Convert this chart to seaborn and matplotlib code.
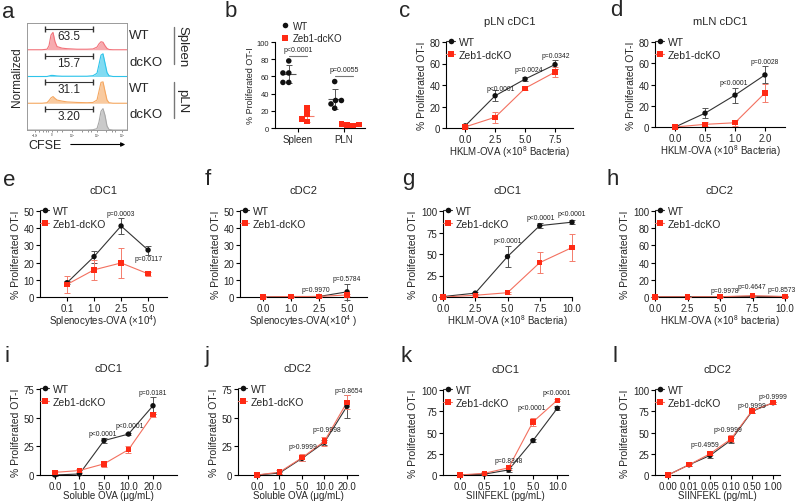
import numpy as np
import pandas as pd
import matplotlib
matplotlib.use('Agg')
import matplotlib.pyplot as plt
import seaborn as sns
from matplotlib.lines import Line2D

# ---------------- data ----------------
# panel a: CFSE histograms, heights as fraction of one row
cfse_x = [0.0, 0.15, 0.20, 0.22, 0.24, 0.26, 0.28, 0.30, 0.35, 0.40, 0.50, 0.60,
          0.66, 0.70, 0.72, 0.74, 0.76, 0.78, 0.80, 0.82, 0.86, 1.0]
hist_wt_spleen = [0, 0, 0.02, 0.15, 0.55, 0.65, 0.30, 0.12, 0.06, 0.04, 0.02, 0.02,
                  0.03, 0.10, 0.22, 0.30, 0.28, 0.15, 0.05, 0.01, 0, 0]
hist_ko_spleen = [0, 0, 0, 0.02, 0.04, 0.04, 0.03, 0.02, 0.01, 0.01, 0.01, 0.01,
                  0.03, 0.12, 0.45, 0.80, 0.85, 0.50, 0.15, 0.03, 0, 0]
hist_wt_pln = [0, 0, 0.02, 0.10, 0.20, 0.25, 0.18, 0.12, 0.08, 0.05, 0.03, 0.02,
               0.03, 0.12, 0.45, 0.78, 0.80, 0.45, 0.12, 0.02, 0, 0]
hist_ko_pln = [0, 0, 0, 0, 0, 0, 0, 0, 0, 0, 0, 0,
               0.01, 0.05, 0.30, 0.70, 0.80, 0.55, 0.15, 0.02, 0, 0]
hist_rows = [hist_wt_spleen, hist_ko_spleen, hist_wt_pln, hist_ko_pln]
hist_colors = ['#f2737b', '#2ec4ea', '#f5a760', '#a8a8a8']
gate_pct = ['63.5', '15.7', '31.1', '3.20']
row_names = ['WT', 'dcKO', 'WT', 'dcKO']

# panel b
b_tissue = ['Spleen'] * 9 + ['PLN'] * 9
b_genotype = (['WT'] * 5 + ['Zeb1-dcKO'] * 4) * 2
b_value = [78, 64, 64, 53, 53, 23, 16, 10.5, 7.5,
           54, 32, 32, 28, 23, 3, 3.5, 4.5, 4]
b_p = [('Spleen', 84, 'p<0.0001'), ('PLN', 60.5, 'p=0.0055')]

# c
c_x = [0, 2.5, 5.0, 7.5]
c_wt, c_wt_sd = [2, 30, 45.5, 59], [1, 5, 1.5, 4]
c_ko, c_ko_sd = [1, 10, 37, 52], [1, 5, 2, 5]
c_p = [(3.0, 37, 'p<0.0001'), (5.3, 54, 'p=0.0024'), (7.6, 67.5, 'p=0.0342')]
# d
d_doses = ['0.0', '0.5', '1.0', '2.0']
d_wt, d_wt_sd = [0, 13, 30, 49], [0.5, 4.6, 7, 8]
d_ko, d_ko_sd = [0, 2.5, 4, 32], [0.5, 2, 3, 8.5]
d_p = [(1.95, 42, 'p<0.0001'), (3.0, 62, 'p=0.0028')]
# e
e_doses = ['0.1', '1.0', '2.5', '5.0']
e_wt, e_wt_sd = [8.3, 23.5, 41.3, 27.3], [1, 3.5, 4.8, 2.6]
e_ko, e_ko_sd = [7.3, 15.8, 19.8, 13.5], [5, 6, 8.5, 1]
e_p = [(2.0, 48.5, 'p=0.0003'), (3.0, 22.5, 'p=0.0117')]
# f
f_doses = ['0.0', '1.0', '2.5', '5.0']
f_wt, f_wt_sd = [0, 0.2, 0.3, 3.0], [0.2, 0.2, 0.3, 4.5]
f_ko, f_ko_sd = [0, 0.3, 0.3, 1.2], [0.2, 0.2, 0.2, 0.5]
f_p = [(1.9, 4.2, 'p=0.9970'), (3.0, 10.5, 'p=0.5784')]
# g
g_x = [0, 2.5, 5.0, 7.5, 10.0]
g_wt, g_wt_sd = [0.5, 4.5, 47, 83, 87], [0.5, 1, 12.5, 3, 2]
g_ko, g_ko_sd = [0, 2, 5, 40, 57.5], [0.5, 0.5, 1, 12.5, 16]
g_p = [(5.0, 65.5, 'p<0.0001'), (7.6, 93, 'p<0.0001'), (10.0, 97, 'p<0.0001')]
# h
h_x = [0, 2.5, 5.0, 7.5, 10.0]
h_wt, h_wt_sd = [0.3, 0.3, 0.3, 0.8, 0.5], [0.3, 0.3, 0.3, 0.3, 0.3]
h_ko, h_ko_sd = [0.2, 0.2, 0.3, 1.5, 0.5], [0.3, 0.3, 0.3, 0.3, 0.3]
h_p = [(5.4, 7.7, 'p=0.9978'), (7.45, 11.9, 'p=0.4647'), (9.75, 8.7, 'p=0.8573')]
# i
i_doses = ['0.0', '1.0', '5.0', '10.0', '20.0']
i_wt, i_wt_sd = [0, 0.9, 30, 35.7, 60.4], [0.5, 0.5, 2, 1, 7.3]
i_ko, i_ko_sd = [2.3, 3.9, 9.7, 22.1, 52.6], [1.5, 1, 2.5, 3, 2]
i_p = [(1.97, 36.4, 'p<0.0001'), (3.06, 43, 'p<0.0001'), (4.0, 72, 'p=0.0181')]
# j
j_doses = ['0.0', '1.0', '5.0', '10.0', '20.0']
j_wt, j_wt_sd = [0, 1.7, 14.5, 28.5, 59.9], [0.5, 1, 2, 2, 10]
j_ko, j_ko_sd = [0, 2.5, 15, 29.5, 63.4], [0.5, 2, 3, 4, 6]
j_p = [(2.06, 25, 'p>0.9999'), (3.1, 40, 'p=0.9998'), (4.06, 73.5, 'p=0.8654')]
# k
k_doses = ['0.0', '0.5', '1.0', '5.0', '10.0']
k_wt, k_wt_sd = [0, 1, 6, 40.5, 78.5], [0.5, 0.5, 2, 2, 2.5]
k_ko, k_ko_sd = [0, 2, 8.5, 62.5, 88], [0.5, 1, 3, 4.5, 1.5]
k_p = [(1.99, 17.6, 'p=0.8348'), (2.95, 79.3, 'p<0.0001'), (3.98, 97, 'p<0.0001')]
# l
l_doses = ['0.00', '0.01', '0.05', '0.10', '0.50', '1.00']
l_wt, l_wt_sd = [0, 12, 23, 41, 75, 85], [0.5, 1, 2.5, 3, 2, 1]
l_ko, l_ko_sd = [0, 12, 25, 42.5, 75.5, 85], [0.5, 1, 2, 4, 2, 1]
l_p = [(1.76, 35.5, 'p=0.4959'), (2.87, 54, 'p>0.9999'), (3.98, 82, 'p>0.9999'), (5.0, 91.8, 'p>0.9999')]

# ---------------- style ----------------
sns.set_style('ticks')
plt.rcParams['font.family'] = ['Liberation Sans', 'DejaVu Sans']
plt.rcParams['mathtext.fontset'] = 'custom'
plt.rcParams['mathtext.rm'] = 'Liberation Sans'
plt.rcParams['mathtext.it'] = 'Liberation Sans:italic'

WT_C = '#111111'
KO_C = '#ff2a14'
LINE_PAL = {'WT': '#333333', 'Zeb1-dcKO': '#f3705f'}
MARK_PAL = {'WT': WT_C, 'Zeb1-dcKO': KO_C}
MARKERS = {'WT': 'o', 'Zeb1-dcKO': 's'}
ERR_WT = '#555555'
ERR_KO = '#f47c6c'

W, H = 800, 502
fig = plt.figure(figsize=(8, 5.02), dpi=100)


def add_ax(l, t, r, b):
    return fig.add_axes([l / W, 1 - b / H, (r - l) / W, (b - t) / H])


def fig_text(x, y, s, **kw):
    fig.text(x / W, 1 - y / H, s, **kw)


def fig_line(x0, y0, x1, y1, **kw):
    fig.add_artist(Line2D([x0 / W, x1 / W], [1 - y0 / H, 1 - y1 / H],
                          transform=fig.transFigure, **kw))


def style_axes(ax, fs=7):
    sns.despine(ax=ax)
    for s in ['left', 'bottom']:
        ax.spines[s].set_linewidth(0.8)
        ax.spines[s].set_color('black')
    ax.tick_params(direction='out', length=3, width=0.8, labelsize=fs, pad=1.2, color='black')


def legend(ax, anchor=(0.0, 1.06), fs=7.5, line=True):
    hs = [Line2D([], [], color=LINE_PAL[g] if line else 'none', lw=0.8,
                 marker=MARKERS[g], markerfacecolor=MARK_PAL[g], markeredgewidth=0,
                 markersize=4) for g in ['WT', 'Zeb1-dcKO']]
    ax.legend(hs, ['WT', 'Zeb1-dcKO'], loc='upper left', bbox_to_anchor=anchor,
              frameon=False, fontsize=fs, handlelength=0.9, handletextpad=0.35,
              borderpad=0, borderaxespad=0, labelspacing=0.3)


def line_panel(ax, xs, wt, wt_sd, ko, ko_sd, title, xlabel, ylim, ystep,
               xlim, xticks, xticklabels, pvals):
    n = len(xs)
    df = pd.DataFrame({'x': list(xs) * 2, 'y': wt + ko,
                       'genotype': ['WT'] * n + ['Zeb1-dcKO'] * n})
    sns.lineplot(data=df, x='x', y='y', hue='genotype', palette=LINE_PAL,
                 linewidth=0.8, legend=False, ax=ax, zorder=2)
    ax.errorbar(xs, wt, yerr=wt_sd, fmt='none', ecolor=ERR_WT, elinewidth=0.7,
                capsize=2.2, capthick=0.7, zorder=3)
    ax.errorbar(xs, ko, yerr=ko_sd, fmt='none', ecolor=ERR_KO, elinewidth=0.7,
                capsize=2.2, capthick=0.7, zorder=3)
    sns.scatterplot(data=df, x='x', y='y', hue='genotype', style='genotype',
                    markers=MARKERS, palette=MARK_PAL, s=15, linewidth=0,
                    legend=False, ax=ax, zorder=4)
    for art in ax.collections + ax.lines:
        art.set_clip_on(False)
    for x, y, t in pvals:
        ax.text(x, y, t, fontsize=4.9, ha='center', va='center', color='#222222')
    ax.set_xlim(*xlim)
    ax.set_ylim(*ylim)
    ax.set_yticks(np.arange(ylim[0], ylim[1] + 0.1, ystep))
    ax.set_xticks(xticks)
    ax.set_xticklabels(xticklabels)
    ax.set_xlabel(xlabel, fontsize=7, labelpad=-0.5)
    ax.set_ylabel('% Proliferated OT-I', fontsize=7.5, labelpad=2)
    ax.set_title(title, fontsize=8, pad=13)
    style_axes(ax)
    legend(ax)


def cat_panel(ax, doses, wt, wt_sd, ko, ko_sd, title, xlabel, ylim, ystep, xlim, pvals):
    pos = np.arange(len(doses))
    line_panel(ax, pos, wt, wt_sd, ko, ko_sd, title, xlabel, ylim, ystep,
               xlim, pos, doses, pvals)


# ---------------- panel a ----------------
ax = add_ax(27, 24, 127, 131)
for r, (h, c) in enumerate(zip(hist_rows, hist_colors)):
    base = 3 - r
    top = base + np.array(h)
    ax.fill_between(cfse_x, base, top, color=c, alpha=0.6, lw=0)
    sns.lineplot(x=cfse_x, y=top, color=c, lw=0.8, ax=ax)
    ax.plot([0.18, 0.66], [base + 0.78] * 2, color='#333333', lw=0.8, marker='|', markersize=4)
    ax.text(0.42, base + 0.52, gate_pct[r], fontsize=8.5, ha='center', va='center')
ax.set_xlim(0, 1)
ax.set_ylim(0, 4)
ax.set_yticks([])
ax.set_xticks([0.08, 0.25, 0.45, 0.7, 0.95])
ax.set_xticklabels(['$-10^3$', '0', '$10^3$', '$10^4$', '$10^5$'], fontsize=2)
ax.set_xticks([0.12, 0.16, 0.19, 0.21, 0.3, 0.35, 0.55, 0.61, 0.64, 0.79, 0.85, 0.88], minor=True)
ax.tick_params(axis='x', which='both', length=1.2, width=0.5, pad=0.2, color='#666666')
for s in ax.spines.values():
    s.set_color('#9a9a9a')
    s.set_linewidth(0.7)
ax.set_ylabel('Normalized', fontsize=8.5, labelpad=3)
fig_text(28, 146.5, 'CFSE', fontsize=9, va='center')
ax.annotate('', xy=(128, H - 145.5), xytext=(68, H - 145.5), xycoords='figure pixels',
            arrowprops=dict(arrowstyle='-|>', lw=0.8, color='black', mutation_scale=6))
for r, name in enumerate(row_names):
    fig_text(129, 36 + r * 26.5, name, fontsize=9.5, va='center')
fig_line(174, 28, 174, 65, color='#777777', lw=1)
fig_line(174, 83, 174, 119, color='#777777', lw=1)
fig_text(182, 47, 'Spleen', fontsize=9.5, va='center', ha='center', rotation=270)
fig_text(182, 101, 'pLN', fontsize=9.5, va='center', ha='center', rotation=270)

# ---------------- panel b ----------------
ax = add_ax(275, 43, 365, 129)
b_df = pd.DataFrame({'tissue': b_tissue, 'genotype': b_genotype, 'value': b_value})
order = ['Spleen', 'PLN']
for g in ['WT', 'Zeb1-dcKO']:
    sns.swarmplot(data=b_df[b_df.genotype == g], x='tissue', y='value', hue='genotype',
                  order=order, hue_order=['WT', 'Zeb1-dcKO'], dodge=True,
                  palette=MARK_PAL, marker=MARKERS[g], size=4, linewidth=0,
                  legend=False, ax=ax, zorder=4)
stats = b_df.groupby(['tissue', 'genotype'])['value'].agg(['mean', 'std'])
for i, t in enumerate(order):
    for g, off, ec in [('WT', -0.2, ERR_WT), ('Zeb1-dcKO', 0.2, ERR_KO)]:
        m, sd = stats.loc[(t, g)]
        ax.errorbar(i + off, m, yerr=sd, fmt='none', ecolor=ec, elinewidth=0.7,
                    capsize=2, capthick=0.7, zorder=3)
        ax.hlines(m, i + off - 0.15, i + off + 0.15, color=ec, lw=0.8, zorder=3)
for t, y, s in b_p:
    i = order.index(t)
    ax.plot([i - 0.2, i + 0.2], [y, y], color='#777777', lw=0.8)
    ax.text(i, y + 3, s, fontsize=5, ha='center', va='bottom', color='#222222')
ax.set_xlim(-0.5, 1.46)
ax.set_ylim(0, 100)
ax.set_yticks(np.arange(0, 101, 20))
ax.set_xlabel('')
ax.set_ylabel('% Proliferated OT-I', fontsize=6.5, labelpad=1)
style_axes(ax, fs=5.5)
ax.tick_params(axis='x', labelsize=7)
legend(ax, anchor=(0.06, 1.25), fs=7, line=False)

# ---------------- line panels ----------------
hk = 'HKLM-OVA (×10$^8$ Bacteria)'
line_panel(add_ax(446, 43, 573, 129), c_x, c_wt, c_wt_sd, c_ko, c_ko_sd, 'pLN cDC1', hk,
           (0, 80), 20, (-1.6, 9.0), c_x, ['0.0', '2.5', '5.0', '7.5'], c_p)
cat_panel(add_ax(655, 43, 785, 128), d_doses, d_wt, d_wt_sd, d_ko, d_ko_sd, 'mLN cDC1', hk,
          (0, 80), 20, (-0.67, 3.67), d_p)
cat_panel(add_ax(40, 212, 167, 298), e_doses, e_wt, e_wt_sd, e_ko, e_ko_sd, 'cDC1',
          'Splenocytes-OVA (×10$^4$)', (0, 50), 10, (-1.0, 3.7), e_p)
cat_panel(add_ax(240, 212, 367, 298), f_doses, f_wt, f_wt_sd, f_ko, f_ko_sd, 'cDC2',
          'Splenocytes-OVA(×10$^4$ )', (0, 50), 10, (-0.82, 3.71), f_p)
line_panel(add_ax(443, 212, 572, 298), g_x, g_wt, g_wt_sd, g_ko, g_ko_sd, 'cDC1', hk,
           (0, 100), 25, (0, 10), g_x, ['0.0', '2.5', '5.0', '7.5', '10.0'], g_p)
line_panel(add_ax(655, 212, 785, 298), h_x, h_wt, h_wt_sd, h_ko, h_ko_sd, 'cDC2',
           'HKLM-OVA (×10$^8$ bacteria)', (0, 100), 20, (0, 10), h_x,
           ['0.0', '2.5', '5.0', '7.5', '10.0'], h_p)
cat_panel(add_ax(40, 390, 177, 476), i_doses, i_wt, i_wt_sd, i_ko, i_ko_sd, 'cDC1',
          'Soluble OVA (μg/mL)', (0, 75), 25, (-0.61, 4.98), i_p)
cat_panel(add_ax(238, 390, 358, 476), j_doses, j_wt, j_wt_sd, j_ko, j_ko_sd, 'cDC2',
          'Soluble OVA (μg/mL)', (0, 75), 25, (-0.84, 4.49), j_p)
cat_panel(add_ax(443, 391, 568, 476), k_doses, k_wt, k_wt_sd, k_ko, k_ko_sd, 'cDC1',
          'SIINFEKL (pg/mL)', (0, 100), 25, (-0.7, 4.44), k_p)
cat_panel(add_ax(655, 391, 780, 476), l_doses, l_wt, l_wt_sd, l_ko, l_ko_sd, 'cDC2',
          'SIINFEKL (pg/mL)', (0, 100), 25, (-0.62, 5.33), l_p)

# panel letters
for s, x, y in [('a', 2, 18), ('b', 225, 17), ('c', 399, 17), ('d', 610, 16),
                ('e', 3, 186), ('f', 205, 185), ('g', 402, 185), ('h', 607, 185),
                ('i', 5, 362), ('j', 205, 362), ('k', 400, 362), ('l', 613, 362)]:
    fig_text(x, y, s, fontsize=16, va='baseline')

fig.savefig('out.png', dpi=100)
